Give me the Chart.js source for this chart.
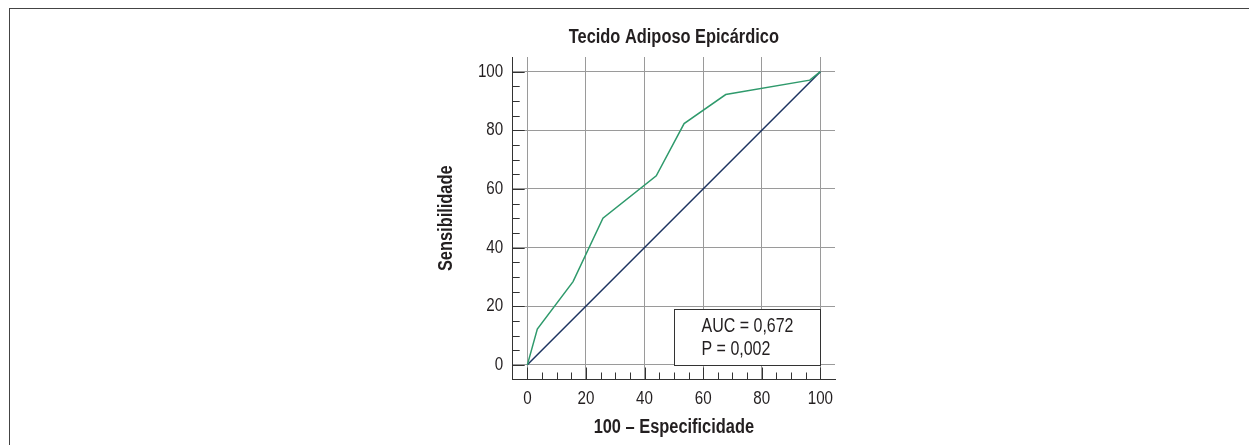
<!DOCTYPE html>
<html>
<head>
<meta charset="utf-8">
<script src="https://cdn.jsdelivr.net/npm/chart.js@4"></script>
<style>
  html, body { margin: 0; padding: 0; background: #fff; }
  #wrap { position: relative; width: 1249px; height: 445px; overflow: hidden; }
  #frame { position: absolute; left: 9px; top: 8px; right: -5px; bottom: -5px; border-left: 1px solid #444; border-top: 1px solid #444; }
  canvas { position: absolute; left: 0; top: 0; }
</style>
</head>
<body>
<div id="wrap">
  <div id="frame"></div>
  <canvas id="rocChart" width="1249" height="445"></canvas>
</div>
<script>
  const chartTitle = 'Tecido Adiposo Epicárdico';
  const xAxisTitle = '100 – Especificidade';
  const yAxisTitle = 'Sensibilidade';
  const tickValues = [0, 20, 40, 60, 80, 100];
  const minorTickValues = [5, 10, 15, 25, 30, 35, 45, 50, 55, 65, 70, 75, 85, 90, 95];
  // ROC curve (100 - especificidade, sensibilidade)
  const rocX = [0, 3.4, 15.6, 25.8, 44.0, 53.5, 67.7, 96.4, 100];
  const rocY = [0, 12.2, 28.4, 50.0, 64.5, 82.3, 92.2, 97.1, 100];
  // reference diagonal
  const refX = [0, 100];
  const refY = [0, 100];
  const statsLines = ['AUC = 0,672', 'P = 0,002'];

  const FONT = "'Liberation Sans', Arial, sans-serif";
  const TEXT = '#231f20';
  const NARROW = 0.82; // no narrow face installed, so squeeze the text horizontally

  const canvas = document.getElementById('rocChart');
  const ctx = canvas.getContext('2d');
  const rawFillText = ctx.fillText.bind(ctx);
  ctx.fillText = function (text, x, y, maxWidth) {
    this.save();
    this.translate(x, y);
    this.scale(NARROW, 1);
    if (maxWidth === undefined) rawFillText(text, 0, 0);
    else rawFillText(text, 0, 0, maxWidth / NARROW);
    this.restore();
  };

  // minor ticks, major ticks and the AUC box
  const rocDecor = {
    id: 'rocDecor',
    afterDatasetsDraw(chart) {
      const { ctx, chartArea, scales: { x, y } } = chart;
      const left = chartArea.left, bottom = chartArea.bottom;
      ctx.save();
      ctx.strokeStyle = '#333';
      ctx.lineWidth = 1;
      ctx.beginPath();
      minorTickValues.forEach(v => {
        const py = Math.round(y.getPixelForValue(v)) + 0.5;
        ctx.moveTo(left, py); ctx.lineTo(left + 7, py);
        const px = Math.round(x.getPixelForValue(v)) + 0.5;
        ctx.moveTo(px, bottom); ctx.lineTo(px, bottom - 7);
      });
      tickValues.forEach(v => {
        const py = Math.round(y.getPixelForValue(v)) + 0.5;
        ctx.moveTo(left, py); ctx.lineTo(left + 12, py);
        const px = Math.round(x.getPixelForValue(v)) + 0.5;
        ctx.moveTo(px, bottom); ctx.lineTo(px, bottom - 12);
      });
      ctx.stroke();

      // stats box
      const bx0 = Math.round(x.getPixelForValue(50)) + 0.5;
      const bx1 = Math.round(x.getPixelForValue(100)) + 0.5;
      const by0 = Math.round(y.getPixelForValue(19)) + 0.5;
      const by1 = Math.round(y.getPixelForValue(0)) + 0.5;
      ctx.fillStyle = '#fff';
      ctx.fillRect(bx0, by0, bx1 - bx0, by1 - by0);
      ctx.strokeStyle = '#333';
      ctx.strokeRect(bx0, by0, bx1 - bx0, by1 - by0);
      ctx.fillStyle = TEXT;
      ctx.font = '19.5px ' + FONT;
      ctx.textAlign = 'left';
      ctx.textBaseline = 'alphabetic';
      statsLines.forEach((t, i) => ctx.fillText(t, bx0 + 27, by0 + 22 + i * 23));
      ctx.restore();
    }
  };

  new Chart(ctx, {
    type: 'line',
    data: {
      datasets: [
        {
          label: 'ROC',
          data: rocX.map((v, i) => ({ x: v, y: rocY[i] })),
          borderColor: '#2f9a6c',
          borderWidth: 1.5,
          pointRadius: 0,
          tension: 0,
          fill: false
        },
        {
          label: 'Referência',
          data: refX.map((v, i) => ({ x: v, y: refY[i] })),
          borderColor: '#1d3461',
          borderWidth: 1.5,
          pointRadius: 0,
          fill: false
        }
      ]
    },
    options: {
      responsive: false,
      animation: false,
      devicePixelRatio: 1,
      layout: { padding: { left: 432, right: 414, top: 25, bottom: 5.5 } },
      plugins: {
        legend: { display: false },
        tooltip: { enabled: false },
        title: {
          display: true,
          text: chartTitle,
          fullSize: false,
          color: TEXT,
          font: { family: FONT, size: 20, weight: 'bold' },
          padding: { top: 0, bottom: 8 }
        }
      },
      scales: {
        x: {
          type: 'linear',
          min: -5,
          max: 105,
          afterBuildTicks: s => { s.ticks = tickValues.map(v => ({ value: v })); },
          afterFit: s => { s.height = 60; },
          grid: { color: '#9a9a9a', drawTicks: false },
          border: { color: '#333', width: 1 },
          ticks: { padding: 8, color: TEXT, maxRotation: 0, font: { family: FONT, size: 18.5 } },
          title: {
            display: true,
            text: xAxisTitle,
            color: TEXT,
            font: { family: FONT, size: 20, weight: 'bold' },
            padding: { top: 0, bottom: 0.5 }
          }
        },
        y: {
          type: 'linear',
          min: -5,
          max: 105,
          afterBuildTicks: s => { s.ticks = tickValues.map(v => ({ value: v })); },
          afterFit: s => { s.width = 80.7; },
          grid: { color: '#9a9a9a', drawTicks: false },
          border: { color: '#333', width: 1 },
          ticks: { padding: 9.5, color: TEXT, font: { family: FONT, size: 18.5 } },
          title: {
            display: true,
            text: yAxisTitle,
            color: TEXT,
            font: { family: FONT, size: 20, weight: 'bold' },
            padding: { top: 2, bottom: 0 }
          }
        }
      }
    },
    plugins: [rocDecor]
  });
</script>
</body>
</html>
